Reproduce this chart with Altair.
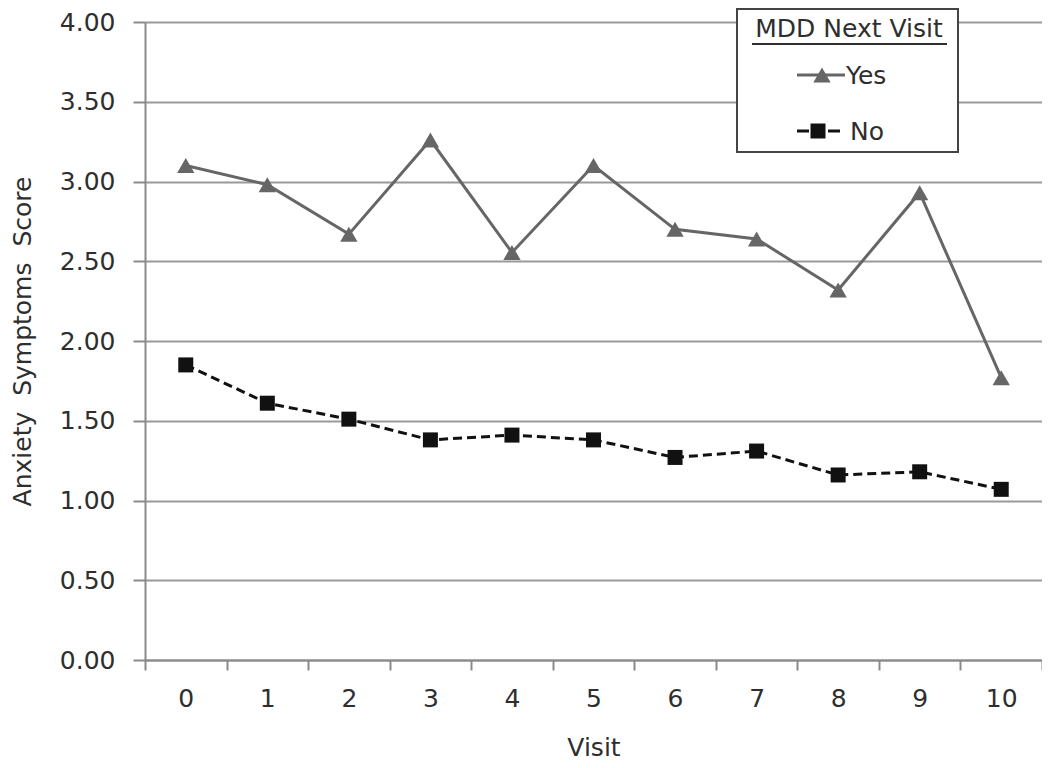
import altair as alt
import pandas as pd

visits = [0, 1, 2, 3, 4, 5, 6, 7, 8, 9, 10]
yes_scores = [3.10, 2.98, 2.67, 3.26, 2.555, 3.10, 2.70, 2.64, 2.32, 2.93, 1.77]
no_scores = [1.85, 1.61, 1.51, 1.38, 1.41, 1.38, 1.27, 1.31, 1.16, 1.18, 1.07]
y_ticks = [0, 0.5, 1.0, 1.5, 2.0, 2.5, 3.0, 3.5, 4.0]

FONT = "DejaVu Sans"
FS = 25
TXT = "#2e2e2e"
YES_C = "#666666"
NO_C = "#111111"
AX_C = "#8a8a8a"

df_yes = pd.DataFrame({"Visit": visits, "Score": yes_scores})
df_no = pd.DataFrame({"Visit": visits, "Score": no_scores})

x_enc = alt.X(
    "Visit:O",
    scale=alt.Scale(type="band", paddingInner=0, paddingOuter=0),
    axis=alt.Axis(
        title="Visit", labelAngle=0, tickBand="extent", labelFontSize=FS,
        titleFontSize=FS, labelPadding=16, titlePadding=24, tickSize=10,
        domainColor=AX_C, tickColor=AX_C, domainWidth=2, tickWidth=2,
        labelColor=TXT, titleColor=TXT, titleFontWeight="normal",
        labelFont=FONT, titleFont=FONT, grid=False,
    ),
)
y_enc = alt.Y(
    "Score:Q",
    scale=alt.Scale(domain=[0, 4], nice=False),
    axis=alt.Axis(
        title="Anxiety\u00a0 Symptoms\u00a0 Score", values=y_ticks, format=".2f",
        labelFontSize=FS, titleFontSize=FS, labelPadding=18, titlePadding=24,
        tickSize=12, domainColor=AX_C, tickColor=AX_C,
        domainWidth=2, tickWidth=2, gridColor="#9a9a9a", gridWidth=2,
        labelColor=TXT, titleColor=TXT, titleFontWeight="normal",
        labelFont=FONT, titleFont=FONT,
    ),
)

yes_line = alt.Chart(df_yes).mark_line(color=YES_C, strokeWidth=3).encode(x=x_enc, y=y_enc)
yes_pts = alt.Chart(df_yes).mark_point(
    shape="triangle-up", filled=True, color=YES_C, size=300, opacity=1
).encode(x="Visit:O", y="Score:Q")
no_line = alt.Chart(df_no).mark_line(
    color=NO_C, strokeWidth=3, strokeDash=[9, 5]
).encode(x="Visit:O", y="Score:Q")
no_pts = alt.Chart(df_no).mark_point(
    shape="square", filled=True, color=NO_C, size=225, opacity=1
).encode(x="Visit:O", y="Score:Q")

one = pd.DataFrame({"a": [0]})
box = alt.Chart(one).mark_rect(fill="white", stroke="#444444", strokeWidth=2).encode(
    x=alt.value(592), x2=alt.value(813), y=alt.value(-13), y2=alt.value(130)
)
title_t = alt.Chart(one).mark_text(
    font=FONT, fontSize=FS, color=TXT, align="center", baseline="middle"
).encode(x=alt.value(704), y=alt.value(7), text=alt.value("MDD Next Visit"))
underline = alt.Chart(one).mark_rule(color=TXT, strokeWidth=2).encode(
    x=alt.value(607), x2=alt.value(802), y=alt.value(22)
)
yes_leg_line = alt.Chart(one).mark_rule(color=YES_C, strokeWidth=3).encode(
    x=alt.value(652), x2=alt.value(700), y=alt.value(53)
)
yes_leg_pt = alt.Chart(one).mark_point(
    shape="triangle-up", filled=True, color=YES_C, size=300, opacity=1
).encode(x=alt.value(677), y=alt.value(53))
yes_leg_t = alt.Chart(one).mark_text(
    font=FONT, fontSize=FS, color=TXT, align="left", baseline="middle"
).encode(x=alt.value(701), y=alt.value(54), text=alt.value("Yes"))
no_leg_l1 = alt.Chart(one).mark_rule(color=NO_C, strokeWidth=3).encode(
    x=alt.value(652), x2=alt.value(664), y=alt.value(109)
)
no_leg_l2 = alt.Chart(one).mark_rule(color=NO_C, strokeWidth=3).encode(
    x=alt.value(683), x2=alt.value(695), y=alt.value(109)
)
no_leg_pt = alt.Chart(one).mark_point(
    shape="square", filled=True, color=NO_C, size=225, opacity=1
).encode(x=alt.value(673), y=alt.value(109))
no_leg_t = alt.Chart(one).mark_text(
    font=FONT, fontSize=FS, color=TXT, align="left", baseline="middle"
).encode(x=alt.value(705), y=alt.value(110), text=alt.value("No"))

chart = alt.layer(
    yes_line, yes_pts, no_line, no_pts,
    box, title_t, underline, yes_leg_line, yes_leg_pt, yes_leg_t,
    no_leg_l1, no_leg_l2, no_leg_pt, no_leg_t,
).properties(
    width=897, height=638,
    padding={"left": 137, "top": 14, "right": 0, "bottom": 100},
    autosize=alt.AutoSizeParams(type="none"),
).configure_view(stroke=None).configure(background="white")

chart.save("out.html", embed_options={"renderer": "svg", "actions": False})
